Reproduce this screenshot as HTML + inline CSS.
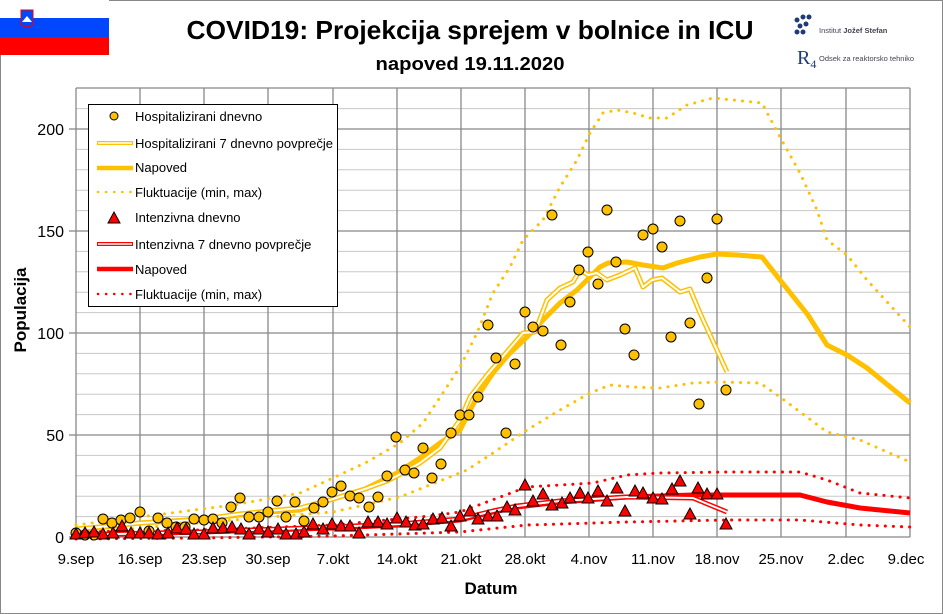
<!DOCTYPE html>
<html><head><meta charset="utf-8"><style>
html,body{margin:0;padding:0;background:#fff}
svg{display:block;font-family:"Liberation Sans",sans-serif}
</style></head><body>
<svg width="943" height="614" viewBox="0 0 943 614" xmlns="http://www.w3.org/2000/svg">
<rect x="0.5" y="0.5" width="942" height="613" fill="#fff" stroke="#888"/>
<!-- flag -->
<rect x="0" y="0" width="109" height="18" fill="#fff"/>
<rect x="0" y="18" width="109" height="19" fill="#0047ff"/>
<rect x="0" y="37" width="109" height="18" fill="#ff0000"/>
<path d="M21 10 h12 v14 q-6 6 -12 0 z" fill="#0047ff" stroke="#e00" stroke-width="1"/>
<path d="M22 22 l5 -6 l5 6 z" fill="#fff"/>
<!-- title -->
<text x="470" y="39" text-anchor="middle" font-size="26" font-weight="bold" textLength="567" lengthAdjust="spacingAndGlyphs">COVID19: Projekcija sprejem v bolnice in ICU</text>
<text x="470" y="70" text-anchor="middle" font-size="18" font-weight="bold" textLength="189" lengthAdjust="spacingAndGlyphs">napoved 19.11.2020</text>
<!-- logos -->
<g fill="#1f3a7a"><circle cx="797" cy="20" r="2.5"/><circle cx="803" cy="17" r="2.5"/><circle cx="809" cy="17" r="2.5"/><circle cx="800" cy="26" r="2.5"/><circle cx="806" cy="24" r="2.5"/><circle cx="797" cy="32" r="2.5"/><circle cx="803" cy="32" r="2.5"/></g>
<text x="819" y="33" font-size="7.5" fill="#445">Institut <tspan font-weight="bold">Jožef Stefan</tspan></text>
<text x="797" y="64" font-family="Liberation Serif,serif" font-size="20" fill="#1f3a7a">R<tspan font-size="12" dy="4">4</tspan></text>
<text x="819" y="61" font-size="7.5" fill="#445">Odsek za reaktorsko tehniko</text>
<!-- grid -->
<g stroke="#c8c8c8" stroke-width="1">
<line x1="76" x2="910" y1="516.6" y2="516.6"/><line x1="76" x2="910" y1="496.2" y2="496.2"/><line x1="76" x2="910" y1="475.8" y2="475.8"/><line x1="76" x2="910" y1="455.4" y2="455.4"/>
<line x1="76" x2="910" y1="414.6" y2="414.6"/><line x1="76" x2="910" y1="394.2" y2="394.2"/><line x1="76" x2="910" y1="373.8" y2="373.8"/><line x1="76" x2="910" y1="353.4" y2="353.4"/>
<line x1="76" x2="910" y1="312.6" y2="312.6"/><line x1="76" x2="910" y1="292.2" y2="292.2"/><line x1="76" x2="910" y1="271.8" y2="271.8"/><line x1="76" x2="910" y1="251.4" y2="251.4"/>
<line x1="76" x2="910" y1="210.6" y2="210.6"/><line x1="76" x2="910" y1="190.2" y2="190.2"/><line x1="76" x2="910" y1="169.8" y2="169.8"/><line x1="76" x2="910" y1="149.4" y2="149.4"/>
<line x1="76" x2="910" y1="108.6" y2="108.6"/>
</g>
<g stroke="#888" stroke-width="1.3">
<line x1="76" x2="910" y1="435" y2="435"/><line x1="76" x2="910" y1="333" y2="333"/><line x1="76" x2="910" y1="231" y2="231"/><line x1="76" x2="910" y1="129" y2="129"/><line x1="76" x2="910" y1="88" y2="88"/>
<line x1="140" x2="140" y1="88" y2="537"/><line x1="204" x2="204" y1="88" y2="537"/><line x1="268" x2="268" y1="88" y2="537"/><line x1="333" x2="333" y1="88" y2="537"/><line x1="397" x2="397" y1="88" y2="537"/><line x1="461" x2="461" y1="88" y2="537"/><line x1="525" x2="525" y1="88" y2="537"/><line x1="589" x2="589" y1="88" y2="537"/><line x1="653" x2="653" y1="88" y2="537"/><line x1="717" x2="717" y1="88" y2="537"/><line x1="781" x2="781" y1="88" y2="537"/><line x1="846" x2="846" y1="88" y2="537"/><line x1="910" x2="910" y1="88" y2="537"/>
<line x1="76" x2="76" y1="88" y2="537"/><line x1="76" x2="910" y1="537" y2="537"/>
<line x1="69" x2="76" y1="537" y2="537"/><line x1="69" x2="76" y1="435" y2="435"/><line x1="69" x2="76" y1="333" y2="333"/><line x1="69" x2="76" y1="231" y2="231"/><line x1="69" x2="76" y1="129" y2="129"/>
</g>
<!-- y labels -->
<g font-size="16" text-anchor="end" fill="#000">
<text x="64" y="543">0</text><text x="64" y="441">50</text><text x="64" y="339">100</text><text x="64" y="237">150</text><text x="64" y="135">200</text>
</g>
<g font-size="15" text-anchor="middle" fill="#000">
<text x="76" y="564">9.sep</text><text x="140" y="564">16.sep</text><text x="204" y="564">23.sep</text><text x="268" y="564">30.sep</text><text x="333" y="564">7.okt</text><text x="397" y="564">14.okt</text><text x="461" y="564">21.okt</text><text x="525" y="564">28.okt</text><text x="589" y="564">4.nov</text><text x="653" y="564">11.nov</text><text x="717" y="564">18.nov</text><text x="781" y="564">25.nov</text><text x="846" y="564">2.dec</text><text x="906" y="564">9.dec</text>
</g>
<text x="491" y="594" font-size="17" font-weight="bold" text-anchor="middle">Datum</text>
<text transform="translate(26,310) rotate(-90)" font-size="17" font-weight="bold" text-anchor="middle">Populacija</text>

<!-- yellow dotted -->
<g fill="none" stroke="#ffc000" stroke-width="3" stroke-dasharray="0.1 8" stroke-linecap="round">
<polyline points="76,525 140,517 233,505 300,493 333,478 367,462 400,443 423,423 460,367 477,333 493,293 510,267 523,240 543,220 560,187 577,160 590,133 603,113 617,110 633,113 650,118 667,118 687,105 713,98 733,100 762,103 780,137 800,173 817,210 827,240 847,255 867,280 910,327"/>
<polyline points="76,534 140,528 233,520 333,512 400,497 467,470 493,453 527,430 560,410 590,393 610,385 633,387 660,388 693,383 720,382 760,383 780,397 827,432 860,440 910,462"/>
</g>
<!-- red dotted -->
<g fill="none" stroke="#ff0000" stroke-width="3" stroke-dasharray="0.1 8" stroke-linecap="round">
<polyline points="76,532 200,530 333,525 430,516 460,512 527,487 560,485 593,483 627,475 660,473 727,472 800,472 827,480 860,493 910,498"/>
<polyline points="76,539 200,538 333,536 460,532 527,525 627,522 727,520 800,520 860,525 910,527"/>
</g>
<!-- yellow forecast -->
<polyline fill="none" stroke="#ffc000" stroke-width="5" stroke-linejoin="round" points="76,530 140,523 204,519 268,512 300,510 333,499 365,489 397,473 420,458 440,443 460,430 477,397 493,373 510,353 527,337 543,320 560,303 577,290 590,277 600,267 608,263 627,262 643,265 663,268 677,263 700,257 717,254 737,255 762,257 780,280 808,315 827,345 847,355 867,368 910,403"/>
<!-- yellow 7d avg -->
<g fill="none" stroke-linejoin="round">
<polyline stroke="#ffc000" stroke-width="5" points="76,529 112,526 140,523 176,521 204,519 240,514 268,511 300,508 333,499 365,489 387,481 397,476 420,463 440,448 460,420 470,397 487,375 523,333 535,332 547,300 560,288 573,282 580,270 588,275 597,273 607,280 620,275 635,268 643,287 652,280 662,278 680,292 690,289 700,313 727,372"/>
<polyline stroke="#fff" stroke-width="2" points="76,529 112,526 140,523 176,521 204,519 240,514 268,511 300,508 333,499 365,489 387,481 397,476 420,463 440,448 460,420 470,397 487,375 523,333 535,332 547,300 560,288 573,282 580,270 588,275 597,273 607,280 620,275 635,268 643,287 652,280 662,278 680,292 690,289 700,313 727,372"/>
</g>
<!-- red forecast -->
<polyline fill="none" stroke="#ff0000" stroke-width="5" stroke-linejoin="round" points="76,535 200,532 333,528 400,525 460,520 493,512 517,507 560,502 627,497 693,495 727,495 800,495 827,502 860,508 910,513"/>
<g fill="none" stroke-linejoin="round">
<polyline stroke="#ff0000" stroke-width="5" points="76,535 200,532 333,527 400,524 460,519 493,511 517,506 560,501 627,497 693,498 727,512"/>
<polyline stroke="#fff" stroke-width="2" points="76,535 200,532 333,527 400,524 460,519 493,511 517,506 560,501 627,497 693,498 727,512"/>
</g>
<!-- dots -->
<g fill="#ffc000" stroke="#000" stroke-width="1">
<circle cx="76" cy="533" r="5"/><circle cx="85" cy="535" r="5"/><circle cx="94" cy="535" r="5"/><circle cx="103" cy="519" r="5"/><circle cx="112" cy="523" r="5"/><circle cx="121" cy="520" r="5"/><circle cx="130" cy="518" r="5"/><circle cx="140" cy="512" r="5"/><circle cx="149" cy="531" r="5"/><circle cx="158" cy="518" r="5"/><circle cx="167" cy="523" r="5"/><circle cx="176" cy="527" r="5"/><circle cx="185" cy="527" r="5"/><circle cx="194" cy="519" r="5"/><circle cx="204" cy="520" r="5"/><circle cx="213" cy="519" r="5"/><circle cx="222" cy="523" r="5"/><circle cx="231" cy="507" r="5"/><circle cx="240" cy="498" r="5"/><circle cx="249" cy="517" r="5"/><circle cx="259" cy="517" r="5"/><circle cx="268" cy="512" r="5"/><circle cx="277" cy="501" r="5"/><circle cx="286" cy="517" r="5"/><circle cx="295" cy="502" r="5"/><circle cx="304" cy="521" r="5"/><circle cx="314" cy="508" r="5"/><circle cx="323" cy="502" r="5"/><circle cx="332" cy="492" r="5"/><circle cx="341" cy="486" r="5"/><circle cx="350" cy="496" r="5"/><circle cx="359" cy="498" r="5"/><circle cx="369" cy="507" r="5"/><circle cx="378" cy="497" r="5"/><circle cx="387" cy="476" r="5"/><circle cx="396" cy="437" r="5"/><circle cx="405" cy="470" r="5"/><circle cx="414" cy="473" r="5"/><circle cx="423" cy="448" r="5"/><circle cx="432" cy="478" r="5"/><circle cx="441" cy="464" r="5"/><circle cx="451" cy="433" r="5"/>
<circle cx="460" cy="415" r="5"/><circle cx="469" cy="415" r="5"/><circle cx="478" cy="397" r="5"/><circle cx="488" cy="325" r="5"/><circle cx="496" cy="358" r="5"/><circle cx="506" cy="433" r="5"/><circle cx="515" cy="364" r="5"/><circle cx="525" cy="312" r="5"/><circle cx="533" cy="327" r="5"/><circle cx="543" cy="331" r="5"/><circle cx="552" cy="215" r="5"/><circle cx="561" cy="345" r="5"/><circle cx="570" cy="302" r="5"/><circle cx="579" cy="270" r="5"/><circle cx="588" cy="252" r="5"/><circle cx="598" cy="284" r="5"/><circle cx="607" cy="210" r="5"/><circle cx="616" cy="262" r="5"/><circle cx="625" cy="329" r="5"/><circle cx="634" cy="355" r="5"/><circle cx="643" cy="235" r="5"/><circle cx="653" cy="229" r="5"/><circle cx="662" cy="247" r="5"/><circle cx="671" cy="337" r="5"/><circle cx="680" cy="221" r="5"/><circle cx="690" cy="323" r="5"/><circle cx="699" cy="404" r="5"/><circle cx="707" cy="278" r="5"/><circle cx="717" cy="219" r="5"/><circle cx="726" cy="390" r="5"/>
</g>
<!-- triangles -->
<defs><path id="t" d="M0,-7 L6,4 L-6,4 Z" fill="#ff0000" stroke="#000" stroke-width="1"/></defs>
<g>
<use href="#t" x="76" y="535"/><use href="#t" x="85" y="534"/><use href="#t" x="94" y="533"/><use href="#t" x="103" y="535"/><use href="#t" x="113" y="534"/><use href="#t" x="122" y="527"/><use href="#t" x="131" y="534"/><use href="#t" x="140" y="534"/><use href="#t" x="149" y="534"/><use href="#t" x="158" y="535"/><use href="#t" x="168" y="534"/><use href="#t" x="177" y="529"/><use href="#t" x="186" y="530"/><use href="#t" x="194" y="535"/><use href="#t" x="204" y="535"/><use href="#t" x="213" y="529"/><use href="#t" x="223" y="529"/><use href="#t" x="232" y="528"/><use href="#t" x="241" y="530"/><use href="#t" x="249" y="535"/><use href="#t" x="259" y="530"/><use href="#t" x="268" y="533"/><use href="#t" x="278" y="530"/><use href="#t" x="286" y="535"/><use href="#t" x="296" y="535"/><use href="#t" x="304" y="533"/><use href="#t" x="313" y="525"/><use href="#t" x="323" y="530"/><use href="#t" x="332" y="525"/><use href="#t" x="341" y="527"/><use href="#t" x="350" y="527"/><use href="#t" x="359" y="534"/><use href="#t" x="368" y="523"/><use href="#t" x="378" y="523"/><use href="#t" x="387" y="525"/><use href="#t" x="397" y="519"/><use href="#t" x="406" y="523"/><use href="#t" x="415" y="526"/><use href="#t" x="423" y="525"/><use href="#t" x="433" y="520"/><use href="#t" x="442" y="519"/><use href="#t" x="451" y="527"/><use href="#t" x="460" y="517"/><use href="#t" x="470" y="512"/><use href="#t" x="478" y="520"/><use href="#t" x="488" y="517"/><use href="#t" x="497" y="517"/><use href="#t" x="507" y="508"/><use href="#t" x="515" y="511"/><use href="#t" x="525" y="486"/><use href="#t" x="533" y="502"/><use href="#t" x="543" y="495"/><use href="#t" x="552" y="506"/><use href="#t" x="562" y="504"/><use href="#t" x="570" y="499"/><use href="#t" x="580" y="494"/><use href="#t" x="588" y="499"/><use href="#t" x="598" y="492"/><use href="#t" x="607" y="502"/><use href="#t" x="617" y="489"/><use href="#t" x="625" y="512"/><use href="#t" x="635" y="492"/><use href="#t" x="643" y="494"/><use href="#t" x="653" y="499"/><use href="#t" x="662" y="500"/><use href="#t" x="672" y="490"/><use href="#t" x="680" y="482"/><use href="#t" x="690" y="515"/><use href="#t" x="698" y="489"/><use href="#t" x="707" y="495"/><use href="#t" x="717" y="495"/><use href="#t" x="726" y="525"/>
</g>
<!-- legend -->
<rect x="88.5" y="104.5" width="249" height="202" fill="#fff" stroke="#000" stroke-width="1"/>
<g font-size="13" fill="#000">
<circle cx="114" cy="116" r="4" fill="#ffc000" stroke="#000"/>
<text x="135" y="121">Hospitalizirani dnevno</text>
<line x1="97" x2="133" y1="143" y2="143" stroke="#ffc000" stroke-width="4"/><line x1="98" x2="132" y1="143" y2="143" stroke="#fff" stroke-width="1.5"/>
<text x="135" y="148">Hospitalizirani 7 dnevno povprečje</text>
<line x1="97" x2="133" y1="168" y2="168" stroke="#ffc000" stroke-width="4.5"/>
<text x="135" y="172">Napoved</text>
<line x1="98" x2="133" y1="192" y2="192" stroke="#ffc000" stroke-width="2.5" stroke-dasharray="0.1 8" stroke-linecap="round"/>
<text x="135" y="197">Fluktuacije (min, max)</text>
<use href="#t" x="114" y="219" transform="translate(0,0)"/>
<text x="135" y="222">Intenzivna dnevno</text>
<line x1="97" x2="133" y1="244" y2="244" stroke="#ff0000" stroke-width="4"/><line x1="98" x2="132" y1="244" y2="244" stroke="#fff" stroke-width="1.5"/>
<text x="135" y="249">Intenzivna 7 dnevno povprečje</text>
<line x1="97" x2="133" y1="269" y2="269" stroke="#ff0000" stroke-width="4.5"/>
<text x="135" y="274">Napoved</text>
<line x1="98" x2="133" y1="294" y2="294" stroke="#ff0000" stroke-width="2.5" stroke-dasharray="0.1 8" stroke-linecap="round"/>
<text x="135" y="299">Fluktuacije (min, max)</text>
</g>
</svg>
</body></html>
